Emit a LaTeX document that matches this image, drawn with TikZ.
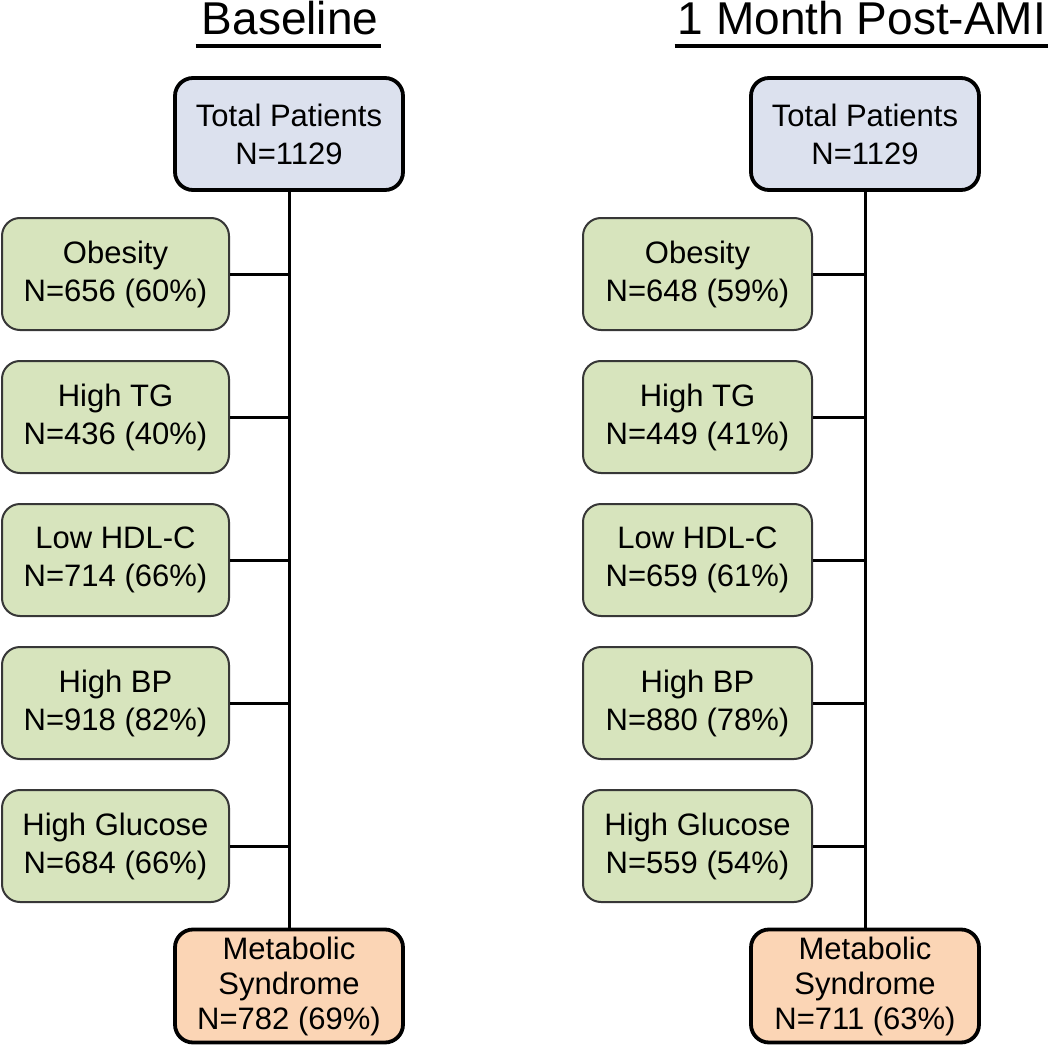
\documentclass[tikz,border=0pt]{standalone}
\usepackage{fontspec}
\setmainfont{Liberation Sans}
\definecolor{boxblue}{RGB}{220,225,238}
\definecolor{boxgreen}{RGB}{215,228,189}
\definecolor{boxorange}{RGB}{251,213,181}
\definecolor{greenline}{RGB}{55,55,55}
\begin{document}
\begin{tikzpicture}[x=1pt,y=-1pt,
  txt/.style={font=\fontsize{31}{38}\selectfont, align=center, inner sep=0pt},
  totalbox/.style={txt, draw=black, line width=3.8pt, fill=boxblue, rounded corners=18pt, minimum width=228pt, minimum height=112pt},
  critbox/.style={txt, draw=greenline, line width=2pt, fill=boxgreen, rounded corners=18pt, minimum width=227pt, minimum height=112pt},
  msbox/.style={txt, font=\fontsize{31}{35}\selectfont, draw=black, line width=3.8pt, fill=boxorange, rounded corners=18pt, minimum width=228pt, minimum height=113pt},
  conn/.style={line width=3pt, black},
  title/.style={font=\fontsize{46}{52}\selectfont, inner sep=0pt, anchor=base},
  uline/.style={line width=4.5pt, black}
]
\useasboundingbox (0,0) rectangle (1050,1046);

% Titles
\node[title] (tb) at (290,35) {Baseline};
\node[title] (tp) at (862,35) {1 Month Post-AMI};
\draw[uline] ([shift={(-6,11)}]tb.base west) -- ([shift={(3,11)}]tb.base east);
\draw[uline] ([shift={(-3,11)}]tp.base west) -- ([shift={(2,11)}]tp.base east);

% Left column
\node[totalbox] (lt) at (289,134) {Total Patients\\N=1129};
\node[critbox] (l1) at (115.5,274) {Obesity\\N=656 (60\%)};
\node[critbox] (l2) at (115.5,417) {High TG\\N=436 (40\%)};
\node[critbox] (l3) at (115.5,560) {Low HDL-C\\N=714 (66\%)};
\node[critbox] (l4) at (115.5,703) {High BP\\N=918 (82\%)};
\node[critbox] (l5) at (115.5,846) {High Glucose\\N=684 (66\%)};
\node[msbox] (lm) at (289,986) {Metabolic\\Syndrome\\N=782 (69\%)};
\draw[conn] (lt.south) -- (lm.north);
\foreach \n in {l1,l2,l3,l4,l5}
  \draw[conn] (\n.east) -- (\n.east -| lt.south);

% Right column
\node[totalbox] (rt) at (865,134) {Total Patients\\N=1129};
\node[critbox, minimum width=229pt] (r1) at (697.5,274) {Obesity\\N=648 (59\%)};
\node[critbox, minimum width=229pt] (r2) at (697.5,417) {High TG\\N=449 (41\%)};
\node[critbox, minimum width=229pt] (r3) at (697.5,560) {Low HDL-C\\N=659 (61\%)};
\node[critbox, minimum width=229pt] (r4) at (697.5,703) {High BP\\N=880 (78\%)};
\node[critbox, minimum width=229pt] (r5) at (697.5,846) {High Glucose\\N=559 (54\%)};
\node[msbox] (rm) at (865,986) {Metabolic\\Syndrome\\N=711 (63\%)};
\draw[conn] (rt.south) -- (rm.north);
\foreach \n in {r1,r2,r3,r4,r5}
  \draw[conn] (\n.east) -- (\n.east -| rt.south);
\end{tikzpicture}
\end{document}
